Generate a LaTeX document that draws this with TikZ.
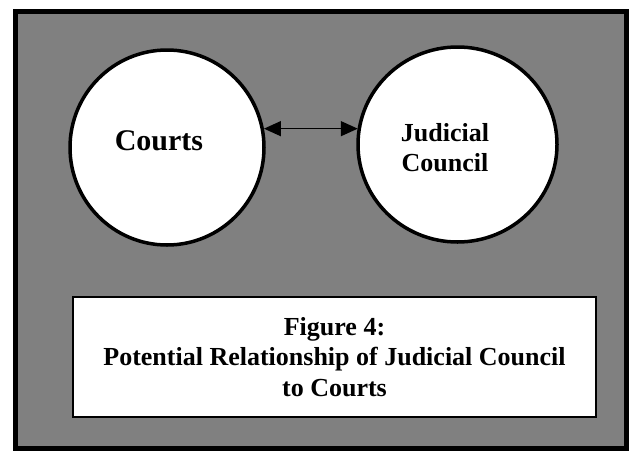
\documentclass[tikz,border=0pt]{standalone}
\usepackage{fontspec}
\setmainfont{Liberation Serif}
\usetikzlibrary{arrows.meta,shapes.geometric}
\begin{document}
\begin{tikzpicture}[x=1pt,y=-1pt,
  frame/.style={draw=black,line width=5pt,fill=black!50},
  ring/.style={ellipse,draw=black,line width=3.5pt,fill=white,inner sep=0pt},
  capbox/.style={rectangle,draw=black,line width=2.5pt,fill=white,inner sep=0pt,
    minimum width=523pt,minimum height=120pt,align=center,
    font=\bfseries\fontsize{26}{30.5}\selectfont},
  lbl/.style={inner sep=0pt,align=center},
  link/.style={line width=1.5pt,{Triangle[length=17pt,width=15pt]}-{Triangle[length=17pt,width=15pt]}}]
\useasboundingbox (0,0) rectangle (631,453);
\path[frame] (15.5,11) rectangle (626.5,448.5);
\node[ring,minimum width=194pt,minimum height=195pt] (c) at (167,147.5) {};
\node[ring,minimum width=199pt,minimum height=195pt] (j) at (457.5,144.5) {};
\node[lbl,anchor=base,font=\bfseries\fontsize{30}{34}\selectfont] (ct) at (159,150) {Courts};
\node[lbl,anchor=center,font=\bfseries\fontsize{26}{30}\selectfont] (jt) at (445,148) {Judicial\\Council};
\coordinate (a) at (c.11.6);
\coordinate (b) at ([xshift=1.5pt]a -| j.west);
\draw[link] (a) -- (b);
\node[capbox] (cap) at (334.5,357) {Figure 4:\\Potential Relationship of Judicial Council\\to Courts};
\end{tikzpicture}
\end{document}
